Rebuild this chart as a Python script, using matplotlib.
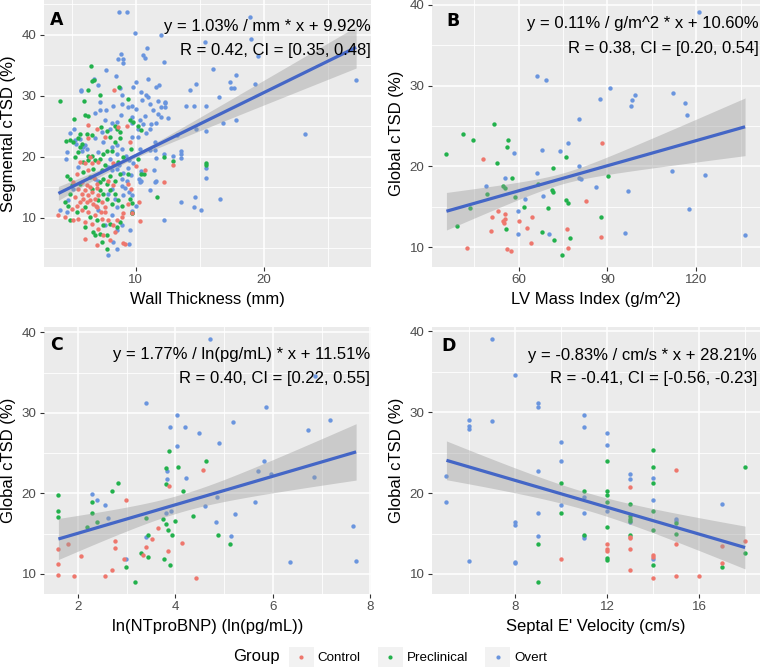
import numpy as np
import matplotlib
matplotlib.use("Agg")
import matplotlib.pyplot as plt
from matplotlib.legend_handler import HandlerBase
from matplotlib.patches import Rectangle
from matplotlib.lines import Line2D

plt.rcParams['font.family'] = ['Liberation Sans', 'DejaVu Sans']

groups = ['Control', 'Preclinical', 'Overt']
colors = {'Control': '#EE776D', 'Preclinical': '#22B14C', 'Overt': '#6A95DE'}
line_color = '#4466C6'

# ---------------- Panel A: Wall thickness (mm) vs segmental cTSD (%) ----------------
a_overt = [(8.68,43.7),(8.84,36.8),(8.63,36.1),(9.02,36.1),(8.97,35.4),(7.64,34.3),(8.42,33.2),(6.76,32.8),
           (7.07,31.7),(5.72,31.0),(5.69,30.8),(8.76,31.3),(8.94,30.1),(7.2,29.0),(8.24,28.4),(8.89,28.6),
           (7.67,27.7),(6.81,27.2),(7.2,27.6),(8.84,26.8),(7.59,26.0),(8.11,25.5),(5.2,24.6),(4.86,23.9),
           (7.33,24.1),(7.98,24.6),(8.5,25.7),
           (9.27,43.7),(9.92,40.3),(12.0,39.9),(10.9,37.8),(10.57,36.6),(10.7,36.2),(12.2,35.6),(10.05,32.2),
           (10.96,32.7),(11.8,31.8),(9.79,31.4),(10.39,30.6),(10.83,30.1),(14.2,30.9),(14.73,31.9),(11.69,29.1),
           (12.26,28.8),(12.26,28.1),(12.0,28.1),(11.09,28.6),(11.35,27.7),(9.66,28.3),(10.0,27.9),(9.4,28.1),
           (13.9,28.3),(14.55,28.3),(11.74,26.95),(11.95,26.5),(12.52,26.4),(10.75,26.7),(11.61,25.5),(11.17,25.4),
           (9.71,26.5),(10.31,26.1),(10.57,25.3),(10.18,24.6),(11.09,24.6),(10.83,23.9),
           (18.94,42.9),(19.0,39.35),(19.5,36.5),(27.2,32.6),(23.2,23.8),(19.33,32.0),(17.85,33.35),(17.33,32.25),
           (17.4,31.2),(17.7,31.2),(16.47,29.8),(16.8,25.5),(17.85,26.1),(16.02,34.4),(15.5,28.3),(15.45,24.2),
           (15.45,18.1),(15.45,16.55),(16.55,13.0),(15.4,38.8),
           (10.18,23.2),(9.66,23.2),(10.31,21.3),(11.09,21.1),(11.48,21.1),(11.53,22.4),(12.21,20.5),(11.61,19.8),
           (12.91,20.1),(13.51,20.9),(13.56,20.5),(13.51,19.8),(9.4,18.1),(11.43,17.9),(10.39,17.6),(10.23,16.4),
           (10.31,15.9),(10.44,16.1),(11.61,16.1),(11.48,15.9),(11.09,14.5),(9.14,14.8),(9.45,14.2),(9.71,13.7),
           (10.05,11.9),(9.71,11.1),(13.51,12.6),(14.6,13.4),(14.55,11.8),(15.07,11.2),(12.21,9.6),(9.53,7.96),
           (9.45,5.77),
           (5.25,22.8),(6.03,21.9),(6.81,23.0),(7.46,22.4),(8.11,21.6),(8.5,21.9),(4.6,20.8),(4.55,19.6),
           (5.77,21.0),(6.16,21.3),(7.07,20.8),(8.89,21.3),(8.5,20.5),(7.98,19.7),(6.81,16.4),(7.07,16.1),
           (8.11,17.8),(8.5,18.0),(8.89,16.4),(7.85,18.3),(5.51,18.3),(5.12,14.76),(8.11,14.76),(8.37,13.1),
           (8.5,11.8),(9.02,13.7),(4.73,12.9),(7.85,13.95),(4.08,11.2),(4.6,10.9),(7.07,11.2),(8.11,10.4),
           (8.89,8.76),(7.59,8.76),(8.5,7.94),(7.85,3.84),(8.5,4.94),(8.24,6.0),
           (14.7,24.6),(13.2,23.5),(12.3,29.0),(11.6,31.5),(10.96,29.8),(10.5,29.25),(5.6,22.9),(5.9,21.6),
           (5.3,22.1),(9.66,25.5),(9.5,19.5),(9.2,20.2),(9.8,19.0),(9.0,17.3),(8.7,18.6),(9.6,17.0),(9.3,16.0),
           (8.9,15.2)]
a_precl = [(6.47,34.8),(6.55,32.4),(6.71,32.6),(6.29,30.9),(4.05,29.1),(5.95,29.1),(7.17,30.1),(8.68,31.4),
           (5.2,26.2),(6.03,26.9),(6.29,26.6),(7.28,24.9),(7.72,24.3),(8.37,25.1),(8.5,24.6),(8.76,24.0),
           (5.64,23.8),(6.16,23.8),(6.55,23.5),
           (9.4,29.4),(9.53,26.1),(9.79,25.7),(10.18,25.1),(10.44,24.4),
           (9.61,21.2),(12.21,20.0),(12.91,19.3),(10.18,19.7),(10.44,17.1),(10.65,17.1),(11.66,13.4),(9.53,13.1),
           (9.66,12.5),(9.66,10.8),(9.71,10.7),(15.5,19.0),(15.5,18.6),
           (4.86,22.7),(5.12,22.4),(5.51,23.0),(5.77,22.1),(7.98,23.2),(8.37,22.4),(8.76,23.0),(5.25,20.0),
           (5.51,20.8),(5.9,19.1),(6.29,19.4),(6.81,19.4),(7.2,19.7),(7.46,20.5),(7.72,21.0),(8.11,21.0),
           (8.63,19.1),(9.02,20.0),(6.55,20.2),(7.59,18.6),(5.64,21.6),(6.24,20.1),(4.6,16.9),(4.86,16.4),
           (4.99,15.3),(5.64,15.6),(5.9,17.5),(6.42,16.7),(7.2,15.9),(7.46,16.4),(7.72,15.6),(7.98,16.9),
           (8.37,16.1),(8.76,17.2),(7.33,17.8),(6.68,18.0),(6.55,14.76),(7.2,14.5),(7.46,13.95),(7.72,13.1),
           (7.98,14.5),(8.37,13.95),(8.63,12.9),(4.47,12.6),(4.73,12.0),(4.86,13.95),(8.11,12.3),(8.89,12.0),
           (7.07,12.9),(6.03,11.8),(4.86,9.6),(5.38,10.9),(6.42,10.1),(6.94,9.6),(7.46,8.76),(7.98,9.03),
           (8.5,8.5),(8.76,9.3),(6.68,7.67),(7.2,7.4),(7.72,7.1),(6.03,8.5),(6.81,7.1),(7.72,4.94),(7.33,6.0),
           (9.4,17.2),(4.55,22.5)]
a_control = [(8.29,31.0),(6.29,25.2),(6.94,24.6),(8.63,24.9),(9.27,25.1),
             (9.53,22.4),(12.91,18.6),(10.05,18.5),(10.75,17.8),(12.21,15.8),(9.61,14.7),(9.35,15.6),(10.23,12.6),
             (10.31,9.4),(9.14,5.77),
             (6.29,23.0),(7.59,23.2),(6.03,18.9),(6.55,18.9),(7.07,19.1),(6.42,20.0),(8.24,18.9),(5.64,19.1),
             (5.38,17.2),(5.77,15.9),(6.29,17.8),(6.94,15.6),(6.16,15.3),(7.85,16.1),(8.24,15.3),(5.12,15.9),
             (5.51,14.76),(5.77,13.95),(6.03,14.5),(6.29,13.7),(6.55,14.2),(6.81,13.1),(7.07,13.7),(5.9,13.1),
             (6.16,12.6),(6.42,12.9),(6.68,12.3),(5.64,12.6),(5.25,13.4),(7.33,12.6),(7.59,11.8),(5.38,12.0),
             (6.94,11.8),(3.95,10.4),(4.47,10.1),(5.77,11.2),(6.29,10.9),(6.81,10.4),(7.33,9.85),(7.85,9.6),
             (8.24,8.76),(8.37,7.67),(6.03,9.3),(6.55,9.03),(7.07,8.2),(5.51,9.85),(5.12,9.6),(8.89,10.1),
             (7.59,10.9),(6.03,6.6),(6.94,5.5),(7.98,6.3),(9.02,5.8),(7.46,7.1),
             (6.7,16.5),(7.0,14.8),(6.4,15.0),(6.9,12.0),(9.4,12.3),(9.0,10.7),(8.5,9.6),(9.66,10.7),(5.0,11.5),
             (7.3,11.0)]
a_fit = (1.03, 9.92)
a_rib_x = [3.95, 9.0, 15.0, 20.0, 27.2]
a_rib_hw = [1.1, 0.55, 1.1, 2.0, 3.4]

# ---------------- Panel B: LV mass index vs global cTSD ----------------
b_overt = [(121.1,39.1),(66.1,31.2),(69.1,30.7),(90.7,29.7),(87.5,28.3),(98.2,28.2),(99.3,28.9),(98.0,27.5),
           (112.3,29.1),(116.3,27.9),(116.8,26.4),(80.5,25.9),(67.8,22.1),(76.6,22.9),(74.0,21.9),(58.5,21.7),
           (49.0,17.6),(55.5,18.6),(66.1,19.2),(80.3,20.0),(80.5,18.6),(81.1,18.4),(68.1,16.3),(62.1,16.0),
           (86.2,17.5),(97.1,17.0),(111.7,19.4),(123.0,18.9),(59.7,14.5),(117.7,14.7),(96.0,11.8),(136.5,11.5),
           (59.7,11.6),(70.1,11.6)]
b_precl = [(35.6,21.5),(41.3,24.0),(44.7,23.3),(51.7,25.2),(56.3,23.3),(55.9,22.4),(75.9,21.2),(71.7,19.8),
           (52.6,20.4),(49.4,16.6),(54.6,17.6),(55.5,17.3),(57.9,18.6),(58.9,16.2),(43.5,14.9),(39.3,12.6),
           (55.6,12.2),(61.8,15.0),(66.4,17.8),(71.2,17.1),(71.5,16.8),(70.0,14.8),(75.9,15.8),(76.8,15.5),
           (90.3,18.8),(87.8,13.7),(67.8,11.9),(72.1,10.9),(77.4,11.2),(74.8,9.0)]
b_control = [(47.8,20.9),(88.1,22.9),(52.9,14.5),(55.5,14.1),(50.9,13.8),(64.4,13.7),(54.8,13.2),(55.2,13.0),
             (55.5,13.5),(60.0,13.3),(62.7,12.4),(50.6,12.0),(82.7,15.7),(76.2,12.3),(87.7,11.3),(64.1,10.5),
             (42.4,9.9),(56.2,9.8),(57.3,9.5),(76.6,9.9)]
b_fit = (0.1036, 10.77)
b_rib_x = [35.6, 75.0, 105.0, 136.6]
b_rib_hw = [2.3, 0.95, 1.7, 3.6]

# ---------------- Panel C: ln(NTproBNP) vs global cTSD ----------------
c_overt = [(4.72,39.2),(3.40,31.2),(5.86,30.7),(4.03,29.7),(7.18,29.1),(5.19,28.9),(6.72,27.9),(3.89,28.3),
           (4.19,28.3),(4.48,27.5),(4.89,26.3),(4.03,25.9),(5.81,24.0),(5.69,22.8),(5.96,22.4),(6.84,22.1),
           (4.22,21.9),(3.83,22.8),(3.83,21.8),(2.29,19.9),(2.39,19.2),(2.56,18.6),(4.85,19.5),(4.61,18.5),
           (5.64,18.9),(3.92,17.8),(3.81,17.6),(2.62,16.9),(5.23,17.5),(4.84,16.4),(7.64,16.0),(5.15,14.7),
           (3.40,14.6),(2.99,11.8),(6.36,11.5),(7.71,11.6),(6.87,34.6)]
c_precl = [(1.60,19.8),(1.60,17.8),(1.60,17.1),(2.29,18.9),(2.29,17.6),(2.19,15.8),(2.39,16.4),(2.82,21.3),
           (2.70,20.3),(3.87,25.3),(3.81,23.2),(4.05,23.3),(3.81,21.2),(4.63,24.0),(4.15,20.3),(3.40,16.9),
           (3.74,16.8),(3.81,16.2),(3.85,15.5),(3.93,14.9),(4.00,16.6),(4.36,17.2),(3.44,14.8),(3.29,12.6),
           (3.44,12.1),(3.77,11.8),(3.89,11.1),(2.99,10.9),(3.18,9.0),(4.87,14.8),(5.13,13.7)]
c_control = [(1.60,13.1),(1.60,11.3),(1.60,9.9),(1.79,13.7),(2.07,12.2),(1.93,9.8),(2.56,9.8),(2.99,19.2),
             (2.77,14.1),(2.77,13.2),(2.70,10.5),(2.95,11.9),(3.33,12.4),(3.40,13.3),(3.53,14.4),(3.64,15.7),
             (3.87,20.9),(3.85,12.9),(4.13,13.8),(4.57,22.9),(4.43,9.5)]
c_fit = (1.77, 11.51)
c_rib_x = [1.6, 4.3, 7.71]
c_rib_hw = [2.55, 1.1, 3.5]

# ---------------- Panel D: septal E' velocity vs global cTSD ----------------
d_overt = [(5,22.1),(5,18.9),(6,29.1),(6,28.3),(6,27.9),(6,11.6),(7,39.1),(7,28.9),(8,34.6),(8,16.4),(8,16.0),
           (8,11.5),(8,11.4),(9,31.2),(9,30.7),(9,22.8),(9,17.5),(9,14.7),(10,26.3),(10,24.0),(10,18.5),
           (11,29.7),(11,28.2),(11,19.5),(11,17.6),(11,14.7),(11,14.5),(12,27.5),(12,25.9),(12,17.8),
           (13,22.4),(13,21.8),(13,16.4),(14,21.9),(14,19.1),(14,11.8),(15,16.8),(15,16.5),(17,18.6)]
d_precl = [(9,13.7),(9,9.0),(10,21.2),(10,17.6),(11,20.3),(11,14.8),(12,24.0),(12,20.3),(12,19.8),(12,18.9),
           (12,15.8),(12,12.0),(12,11.7),(13,18.6),(13,17.2),(13,16.8),(13,16.6),(13,14.8),(14,25.3),(14,23.2),
           (14,21.2),(14,17.8),(14,15.5),(14,11.1),(15,16.3),(15,14.9),(17,10.9),(18,23.2),(18,12.6)]
d_control = [(10,11.9),(12,13.7),(12,13.1),(12,12.9),(13,20.7),(13,14.6),(13,14.4),(13,13.1),(13,10.5),
             (14,12.4),(14,12.1),(14,9.5),(15,22.9),(15,13.7),(15,9.8),(16,9.8),(17,13.4),(17,11.3),(18,14.1)]
d_fit = (-0.83, 28.21)
d_rib_x = [5.0, 11.5, 18.0]
d_rib_hw = [2.4, 1.1, 2.65]

W, H = 760, 671
fig = plt.figure(figsize=(W / 100, H / 100), dpi=100)


def px_axes(l, t, r, b):
    return fig.add_axes([l / W, 1 - b / H, (r - l) / W, (b - t) / H])


def draw_panel(ax, data, fit, rib_x, rib_hw, xticks, xminor, yticks, yminor, xlabel, ylabel):
    allx = np.concatenate([np.array(d)[:, 0] for d in data.values()])
    ally = np.concatenate([np.array(d)[:, 1] for d in data.values()])
    ax.set_facecolor('#EBEBEB')
    for s in ax.spines.values():
        s.set_visible(False)
    for g in ['Overt', 'Preclinical', 'Control']:
        arr = np.array(data[g])
        ax.scatter(arr[:, 0], arr[:, 1], s=10, color=colors[g], linewidths=0, zorder=2)
    xs = np.linspace(allx.min(), allx.max(), 120)
    ys = fit[0] * xs + fit[1]
    c = np.polyfit(rib_x, np.square(rib_hw), 2)
    hw = np.sqrt(np.clip(np.polyval(c, xs), 0.05, None))
    ax.fill_between(xs, ys - hw, ys + hw, color='#999999', alpha=0.4, linewidth=0, zorder=3)
    ax.plot(xs, ys, color=line_color, lw=2.3, zorder=4, solid_capstyle='butt')
    xr = allx.max() - allx.min()
    ax.set_xlim(allx.min() - 0.05 * xr, allx.max() + 0.05 * xr)
    lo = min(ally.min(), (ys - hw).min())
    hi = max(ally.max(), (ys + hw).max())
    yr = hi - lo
    ax.set_ylim(lo - 0.05 * yr, hi + 0.05 * yr)
    ax.set_xticks(xticks)
    ax.set_yticks(yticks)
    ax.set_xticks(xminor, minor=True)
    ax.set_yticks(yminor, minor=True)
    ax.grid(which='major', color='white', lw=1.15)
    ax.grid(which='minor', color='white', lw=0.6)
    ax.set_axisbelow(True)
    ax.tick_params(which='major', length=3, width=0.8, color='#333333', labelsize=9.6,
                   labelcolor='#4D4D4D', pad=2)
    ax.tick_params(which='minor', length=0)
    ax.set_xlabel(xlabel, fontsize=12, labelpad=4)
    ax.set_ylabel(ylabel, fontsize=12, labelpad=4)


axA = px_axes(43.5, 0, 371, 267.5)
axB = px_axes(431.5, 0, 760, 267.5)
axC = px_axes(43.5, 326.6, 371, 594.2)
axD = px_axes(431.5, 326.6, 760, 594.2)

draw_panel(axA, {'Control': a_control, 'Preclinical': a_precl, 'Overt': a_overt}, a_fit, a_rib_x, a_rib_hw,
           [10, 20], [5, 15, 25], [10, 20, 30, 40], [5, 15, 25, 35, 45],
           'Wall Thickness (mm)', 'Segmental cTSD (%)')
draw_panel(axB, {'Control': b_control, 'Preclinical': b_precl, 'Overt': b_overt}, b_fit, b_rib_x, b_rib_hw,
           [60, 90, 120], [45, 75, 105, 135], [10, 20, 30, 40], [15, 25, 35],
           'LV Mass Index (g/m^2)', 'Global cTSD (%)')
draw_panel(axC, {'Control': c_control, 'Preclinical': c_precl, 'Overt': c_overt}, c_fit, c_rib_x, c_rib_hw,
           [2, 4, 6, 8], [3, 5, 7], [10, 20, 30, 40], [15, 25, 35],
           'ln(NTproBNP) (ln(pg/mL))', 'Global cTSD (%)')
draw_panel(axD, {'Control': d_control, 'Preclinical': d_precl, 'Overt': d_overt}, d_fit, d_rib_x, d_rib_hw,
           [8, 12, 16], [6, 10, 14, 18], [10, 20, 30, 40], [15, 25, 35],
           "Septal E' Velocity (cm/s)", 'Global cTSD (%)')


def ftext(x, y, s, **kw):
    fig.text(x / W, 1 - y / H, s, **kw)


ann = [
    (371, 30.7, 55.0, 'y = 1.03% / mm * x + 9.92%', 'R = 0.42, CI = [0.35, 0.48]'),
    (759, 28.3, 53.3, 'y = 0.11% / g/m^2 * x + 10.60%', 'R = 0.38, CI = [0.20, 0.54]'),
    (370, 359.3, 383.3, 'y = 1.77% / ln(pg/mL) * x + 11.51%', 'R = 0.40, CI = [0.22, 0.55]'),
    (757, 360.0, 383.3, 'y = -0.83% / cm/s * x + 28.21%', 'R = -0.41, CI = [-0.56, -0.23]'),
]
for xr, y1, y2, t1, t2 in ann:
    ftext(xr, y1, t1, ha='right', va='baseline', fontsize=12, color='black', zorder=10)
    ftext(xr, y2, t2, ha='right', va='baseline', fontsize=12, color='black', zorder=10)

letters = [(50, 25, 'A'), (446.7, 26, 'B'), (50, 350, 'C'), (441.7, 351, 'D')]
for x, y, s in letters:
    ftext(x, y, s, ha='left', va='baseline', fontsize=12.5, fontweight='bold',
          family=['DejaVu Sans'], color='black', zorder=10)


class KeyHandler(HandlerBase):
    def create_artists(self, legend, orig_handle, xdescent, ydescent, width, height, fontsize, trans):
        r = Rectangle((-xdescent, -ydescent), width, height, facecolor='#F2F2F2',
                      edgecolor='none', transform=trans)
        m = Line2D([-xdescent + width / 2], [-ydescent + height / 2], marker='o', linestyle='none',
                   markersize=3, markerfacecolor=orig_handle.get_color(), markeredgewidth=0,
                   transform=trans)
        return [r, m]


handles = [Line2D([], [], color=colors[g]) for g in groups]
fig.legend(handles, groups, loc='center', bbox_to_anchor=(418 / W, 1 - 657 / H), ncol=3,
           frameon=False, fontsize=9.6, handlelength=1.85, handleheight=1.85, handletextpad=0.3,
           columnspacing=1.3, borderpad=0, handler_map={Line2D: KeyHandler()})
ftext(233, 657, 'Group', ha='left', va='center', fontsize=12)

fig.savefig('out.png', dpi=100)
